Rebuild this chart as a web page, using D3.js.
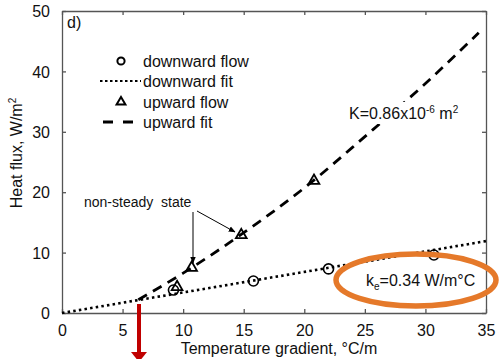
<!DOCTYPE html>
<html>
<head>
<meta charset="utf-8">
<script src="https://cdn.jsdelivr.net/npm/d3@7"></script>
<style>
  body { margin: 0; background: #fff; }
  svg { display: block; font-family: "Liberation Sans", Arial, sans-serif; }
</style>
</head>
<body>
<div id="chart"></div>
<script>
// data
var xTicks = [0, 5, 10, 15, 20, 25, 30, 35];
var yTicks = [0, 10, 20, 30, 40, 50];

var downX = [9.2, 15.8, 22.0, 30.7];
var downY = [3.8, 5.3, 7.3, 9.6];
var upX = [9.5, 10.7, 14.8, 20.8];
var upY = [4.3, 7.5, 12.9, 21.9];

var downFitX = [0, 35];
var downFitY = [0, 11.9];
var upFitX = [6.3, 10, 15, 20, 25, 30, 34.4];
var upFitY = [2.2, 6.6, 13.3, 20.7, 29.2, 38.0, 46.4];

var svgWidth = 499, svgHeight = 359;
var margin = {top: 11, right: 13, bottom: 46, left: 62},
    width = svgWidth - margin.left - margin.right,
    height = svgHeight - margin.top - margin.bottom;

var svg = d3.select("#chart").append("svg")
    .attr("width", svgWidth)
    .attr("height", svgHeight);

var g = svg.append("g")
    .attr("transform", "translate(" + margin.left + "," + margin.top + ")");

var x = d3.scaleLinear().domain([0, 35]).range([0, width]);
var y = d3.scaleLinear().domain([0, 50]).range([height, 0]);

var axisColor = "#555";

// axes, ticks pointing inward
var axBottom = g.append("g").attr("transform", "translate(0," + height + ")")
    .call(d3.axisBottom(x).tickValues(xTicks).tickSizeInner(-4).tickSizeOuter(0).tickPadding(12));
var axLeft = g.append("g")
    .call(d3.axisLeft(y).tickValues(yTicks).tickSizeInner(-4).tickSizeOuter(0).tickPadding(12));
var axTop = g.append("g")
    .call(d3.axisTop(x).tickValues(xTicks).tickSizeInner(-4).tickSizeOuter(0).tickFormat(""));
var axRight = g.append("g").attr("transform", "translate(" + width + ",0)")
    .call(d3.axisRight(y).tickValues(yTicks).tickSizeInner(-4).tickSizeOuter(0).tickFormat(""));

[axBottom, axLeft, axTop, axRight].forEach(function(a) {
  a.select(".domain").attr("stroke", axisColor).attr("stroke-width", 1.3);
  a.selectAll(".tick line").attr("stroke", axisColor).attr("stroke-width", 1.3);
  a.selectAll(".tick text").attr("fill", "#111").style("font-size", "16px")
    .style("font-family", "'Liberation Sans', Arial, sans-serif");
});
axLeft.selectAll(".tick text").attr("dy", "0.36em");

// fit lines
var line = d3.line()
    .x(function(d) { return x(d[0]); })
    .y(function(d) { return y(d[1]); })
    .curve(d3.curveMonotoneX);

g.append("path")
    .datum(downFitX.map(function(v, i) { return [v, downFitY[i]]; }))
    .attr("d", line)
    .attr("fill", "none").attr("stroke", "#000")
    .attr("stroke-width", 2.6).attr("stroke-dasharray", "2.5,3.2");

g.append("path")
    .datum(upFitX.map(function(v, i) { return [v, upFitY[i]]; }))
    .attr("d", line)
    .attr("fill", "none").attr("stroke", "#000")
    .attr("stroke-width", 2.8).attr("stroke-dasharray", "10,7");

// markers
g.selectAll(".down")
    .data(downX.map(function(v, i) { return [v, downY[i]]; }))
    .enter().append("circle")
    .attr("cx", function(d) { return x(d[0]); })
    .attr("cy", function(d) { return y(d[1]); })
    .attr("r", 5)
    .attr("fill", "none").attr("stroke", "#000").attr("stroke-width", 1.6);

var tri = d3.symbol().type(d3.symbolTriangle).size(50);
g.selectAll(".up")
    .data(upX.map(function(v, i) { return [v, upY[i]]; }))
    .enter().append("path")
    .attr("d", tri)
    .attr("transform", function(d) { return "translate(" + x(d[0]) + "," + y(d[1]) + ")"; })
    .attr("fill", "none").attr("stroke", "#000").attr("stroke-width", 1.8);

// panel label
svg.append("text").attr("x", 67).attr("y", 28).text("d)")
    .style("font-size", "16px").attr("fill", "#111");

// legend
var lg = svg.append("g").style("font-size", "16px").attr("fill", "#111");
lg.append("circle").attr("cx", 121).attr("cy", 61).attr("r", 3.6)
    .attr("fill", "none").attr("stroke", "#000").attr("stroke-width", 2);
lg.append("text").attr("x", 143).attr("y", 67).text("downward flow");
lg.append("line").attr("x1", 100).attr("x2", 141).attr("y1", 81).attr("y2", 81)
    .attr("stroke", "#000").attr("stroke-width", 2.2).attr("stroke-dasharray", "2.5,2.5");
lg.append("text").attr("x", 143).attr("y", 87).text("downward fit");
lg.append("path").attr("d", d3.symbol().type(d3.symbolTriangle).size(34))
    .attr("transform", "translate(121,102)")
    .attr("fill", "none").attr("stroke", "#000").attr("stroke-width", 2);
lg.append("text").attr("x", 143).attr("y", 108).text("upward flow");
lg.append("line").attr("x1", 103).attr("x2", 134).attr("y1", 122).attr("y2", 122)
    .attr("stroke", "#000").attr("stroke-width", 2.8).attr("stroke-dasharray", "10,10");
lg.append("text").attr("x", 143).attr("y", 128).text("upward fit");

// K annotation, on a white patch so the fit line breaks behind it
var kBack = svg.append("rect").attr("fill", "#fff");
var kt = svg.append("text").attr("x", 349).attr("y", 119)
    .style("font-size", "16px").attr("fill", "#111");
kt.append("tspan").text("K=0.86x10");
kt.append("tspan").attr("dy", -6).style("font-size", "10px").text("-6");
kt.append("tspan").attr("dy", 6).text(" m");
kt.append("tspan").attr("dy", -6).style("font-size", "10px").text("2");
var kb = kt.node().getBBox();
kBack.attr("x", kb.x - 2).attr("y", kb.y - 2).attr("width", kb.width + 4).attr("height", kb.height + 4);

// non-steady state annotation with arrows
svg.append("defs").append("marker")
    .attr("id", "ah").attr("viewBox", "0 0 10 10")
    .attr("refX", 9).attr("refY", 5)
    .attr("markerWidth", 7).attr("markerHeight", 7)
    .attr("orient", "auto")
  .append("path").attr("d", "M0,1 L10,5 L0,9 Z").attr("fill", "#000");

svg.append("text").attr("x", 84).attr("y", 207).text("non-steady  state")
    .attr("xml:space", "preserve").style("white-space", "pre")
    .style("font-size", "14px").attr("fill", "#111");
svg.append("line").attr("x1", 193).attr("y1", 212)
    .attr("x2", 193).attr("y2", 263)
    .attr("stroke", "#000").attr("stroke-width", 1).attr("marker-end", "url(#ah)");
svg.append("line").attr("x1", 197).attr("y1", 211)
    .attr("x2", 235).attr("y2", 232)
    .attr("stroke", "#000").attr("stroke-width", 1).attr("marker-end", "url(#ah)");

// axis titles
svg.append("text")
    .attr("text-anchor", "middle")
    .attr("transform", "translate(22,153)rotate(-90)")
    .style("font-size", "16px").attr("fill", "#111")
    .call(function(t) {
      t.append("tspan").text("Heat flux, W/m");
      t.append("tspan").attr("dy", -6).style("font-size", "10px").text("2");
    });

svg.append("text")
    .attr("text-anchor", "middle")
    .attr("x", 279).attr("y", 354)
    .style("font-size", "16px").attr("fill", "#111")
    .text("Temperature gradient, \u00B0C/m");

// orange ellipse with ke label
svg.append("ellipse").attr("cx", 416).attr("cy", 280).attr("rx", 80).attr("ry", 26)
    .attr("fill", "none").attr("stroke", "#e5792a").attr("stroke-width", 5.5);
var ke = svg.append("text").attr("x", 366).attr("y", 286)
    .style("font-size", "16px").attr("fill", "#111");
ke.append("tspan").text("k");
ke.append("tspan").attr("dy", 4).style("font-size", "10px").text("e");
ke.append("tspan").attr("dy", -4).text("=0.34 W/m\u00B0C");

// red arrow going down from the curve junction
svg.append("rect").attr("x", 137).attr("y", 304).attr("width", 4).attr("height", 50)
    .attr("fill", "#c00000");
svg.append("path").attr("d", "M131,352 L147,352 L139,362 Z").attr("fill", "#c00000");
</script>
</body>
</html>
